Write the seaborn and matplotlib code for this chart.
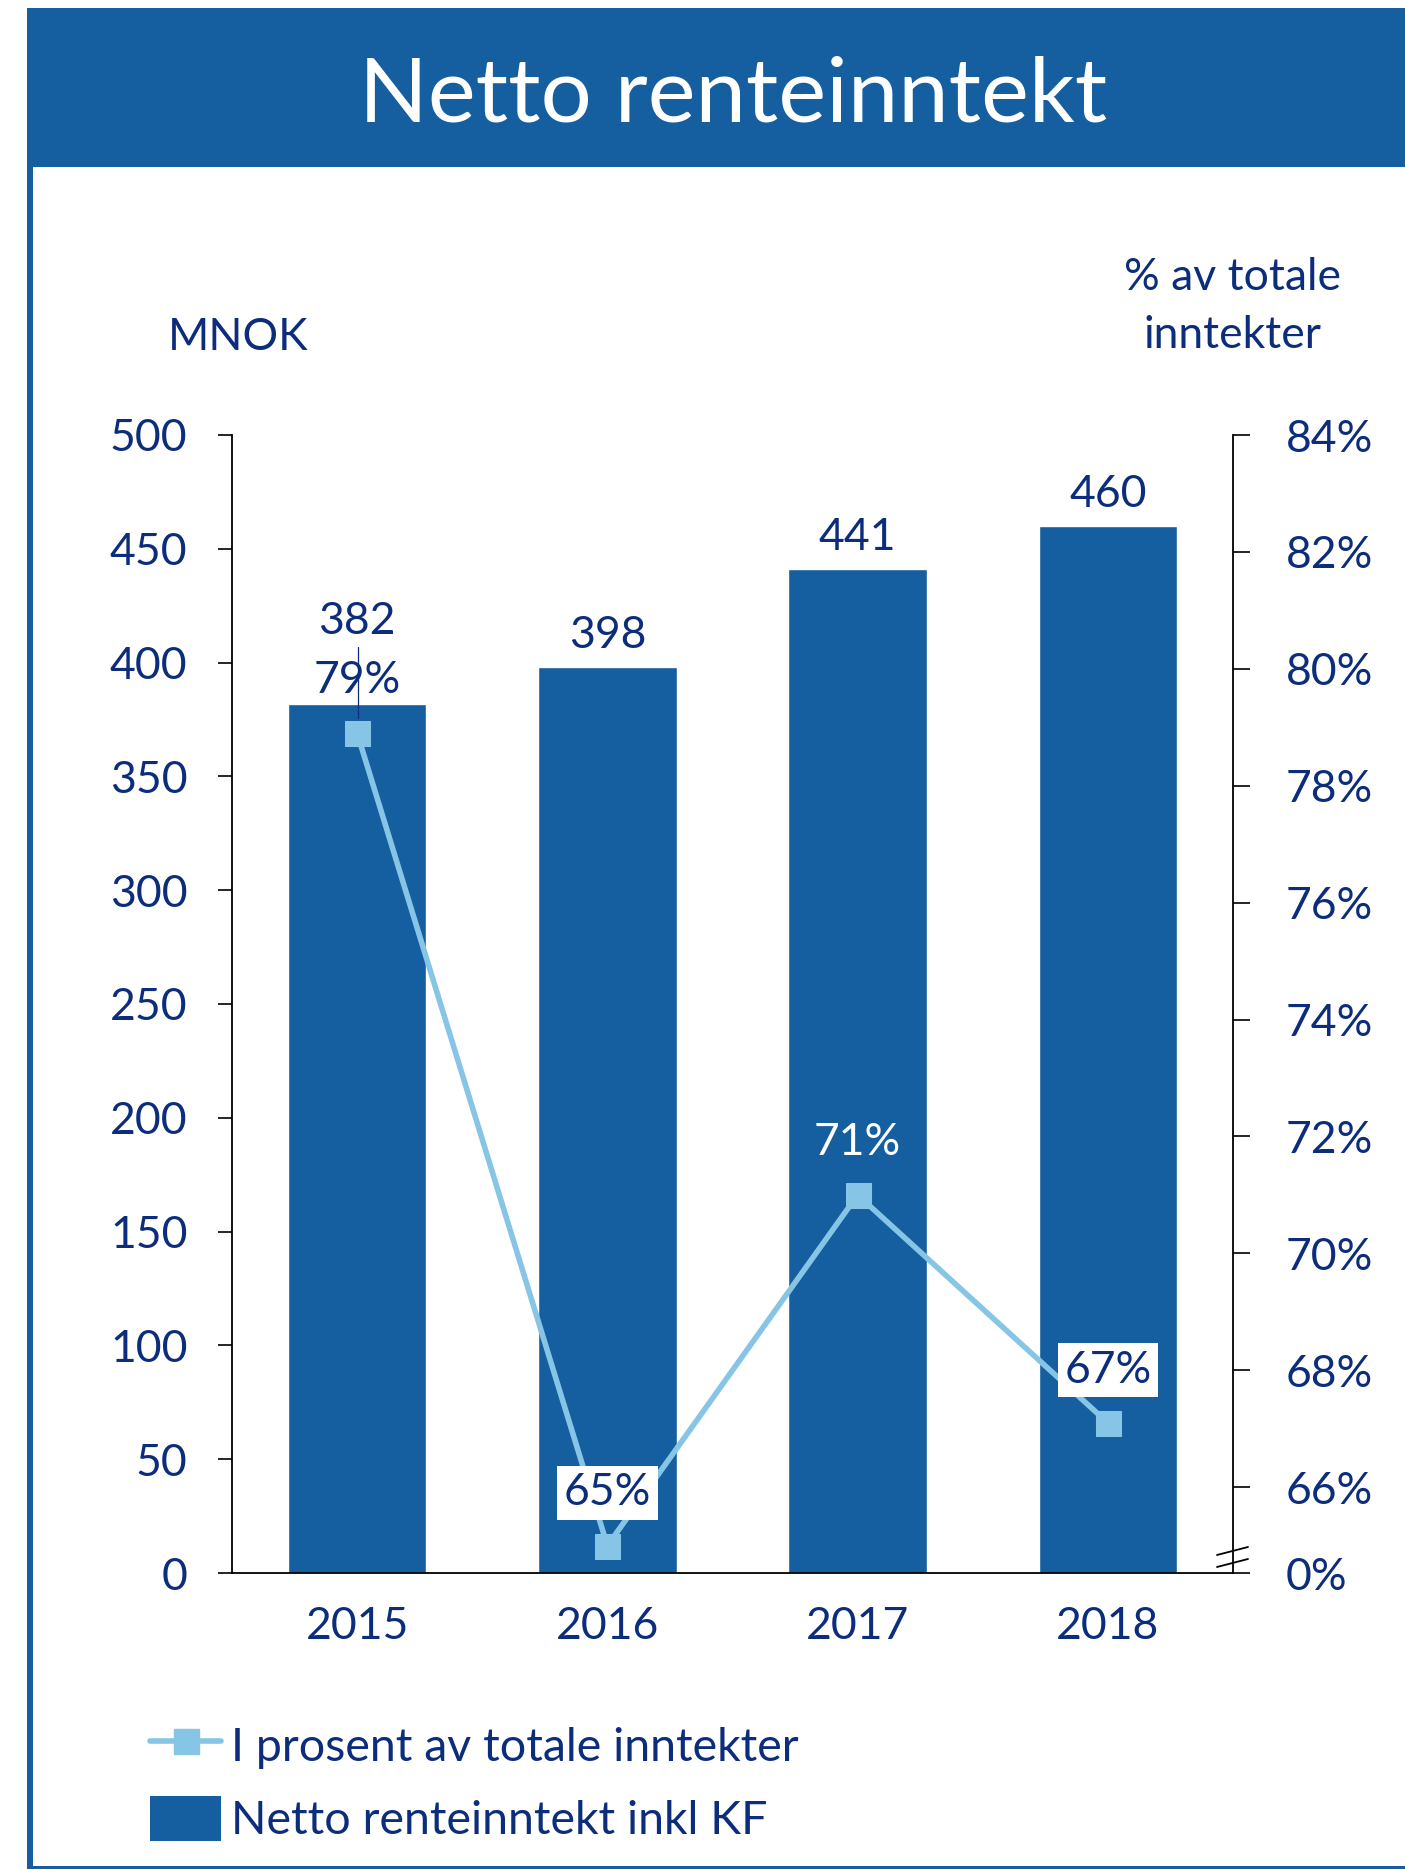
import numpy as np
import pandas as pd
import matplotlib
matplotlib.use("Agg")
import matplotlib.pyplot as plt
from matplotlib.patches import Rectangle, Patch
from matplotlib.lines import Line2D
import seaborn as sns

# ---- data ----
years = ["2015", "2016", "2017", "2018"]
netto = [382, 398, 441, 460]
prosent = [78.9, 65.0, 71.0, 67.1]
prosent_labels = ["79%", "65%", "71%", "67%"]
left_ticks = [0, 50, 100, 150, 200, 250, 300, 350, 400, 450, 500]
right_ticks = [66, 68, 70, 72, 74, 76, 78, 80, 82, 84]

BAR = "#155FA0"
LIGHT = "#86C5E5"
NAVY = "#0C2D7B"

sns.set_theme(style="white")
plt.rcParams["font.family"] = ["Lato", "DejaVu Sans"]

W, H = 1405, 1869
fig = plt.figure(figsize=(W / 100, H / 100), dpi=100)

def fx(px):
    return px / W

def fy(py):
    return 1 - py / H

# frame decorations
fig.patches.append(Rectangle((fx(27), fy(167)), 1, fy(8) - fy(167), transform=fig.transFigure,
                             facecolor=BAR, edgecolor="none", zorder=0))
fig.patches.append(Rectangle((fx(27), 0), fx(6), fy(8), transform=fig.transFigure,
                             facecolor=BAR, edgecolor="none", zorder=0))
fig.patches.append(Rectangle((fx(27), 0), 1, 3 / H, transform=fig.transFigure,
                             facecolor=BAR, edgecolor="none", zorder=0))
fig.text(fx(733), fy(121), "Netto renteinntekt", color="white", fontsize=65,
         ha="center", va="baseline")

ax = fig.add_axes([fx(232), fy(1573), fx(1233) - fx(232), fy(435) - fy(1573)])
df = pd.DataFrame({"year": years, "netto": netto, "prosent": prosent})
sns.barplot(data=df, x="year", y="netto", color=BAR, saturation=1, width=0.553, ax=ax)
ax.set_xlim(-0.5, 3.5)
ax.set_ylim(0, 500)
ax.set_yticks(left_ticks)
ax.set_xlabel("")
ax.set_ylabel("")
for s in ["top", "right"]:
    ax.spines[s].set_visible(False)
for s in ["left", "bottom"]:
    ax.spines[s].set_color("black")
    ax.spines[s].set_linewidth(1.3)
ax.tick_params(axis="y", direction="out", length=10, width=1.2, color="black",
               labelsize=32, labelcolor=NAVY, pad=22, left=True)
ax.tick_params(axis="x", length=0, labelsize=32, labelcolor=NAVY, pad=24)
ax.grid(False)

# bar labels
for i, v in enumerate(netto):
    off = 23 if i != 0 else 59
    ax.annotate(f"{v}", (i, v), xytext=(0, off), textcoords="offset points",
                ha="center", va="center", fontsize=32, color=NAVY)

# twin axis for percentage
ax2 = ax.twinx()
bottom_val = 66 - (1320 - 1248) / (1248 - 365) * 18
ax2.set_ylim(bottom_val, 84)
sns.lineplot(x=np.arange(len(years)), y=prosent, ax=ax2, color=LIGHT, linewidth=4,
             marker="s", markersize=18, markeredgecolor=LIGHT, markerfacecolor=LIGHT, zorder=3)
ax2.set_yticks([bottom_val] + right_ticks)
ax2.set_yticklabels(["0%"] + [f"{t}%" for t in right_ticks])
for s in ["top", "left", "bottom"]:
    ax2.spines[s].set_visible(False)
ax2.spines["right"].set_color("black")
ax2.spines["right"].set_linewidth(1.3)
ax2.tick_params(axis="y", direction="out", length=12, width=1.2, color="black",
                labelsize=32, labelcolor=NAVY, pad=26, right=True)
ax2.grid(False)

# line labels
for i, (v, lab) in enumerate(zip(prosent, prosent_labels)):
    if i in (1, 3):
        kw = dict(bbox=dict(boxstyle="square,pad=0.15", facecolor="white", edgecolor="none"),
                  color=NAVY)
    elif i == 2:
        kw = dict(color="white")
    else:
        kw = dict(color=NAVY)
    ax2.annotate(lab, (i, v), xytext=(0, 38), textcoords="offset points",
                 ha="center", va="center", fontsize=32, zorder=5, **kw)

# leader line from the 2015 bar label down to the marker
fig.add_artist(Line2D([fx(357.5), fx(357.5)], [fy(647), fy(718)], color=NAVY, lw=0.9,
                      transform=fig.transFigure, zorder=10))

# axis break marks on right spine
for dy in (1551, 1563):
    yb = fy(dy)
    fig.add_artist(Line2D([fx(1217), fx(1248)], [yb - 4 / H, yb + 4 / H],
                          color="black", lw=1.3, transform=fig.transFigure))

# axis titles
fig.text(fx(168), fy(350), "MNOK", fontsize=32, color=NAVY, ha="left", va="baseline")
fig.text(fx(1232), fy(290), "% av totale", fontsize=32, color=NAVY, ha="center", va="baseline")
fig.text(fx(1232), fy(348), "inntekter", fontsize=32, color=NAVY, ha="center", va="baseline")

# legend
handles = [Line2D([0], [0], color=LIGHT, lw=4, marker="s", markersize=18,
                  markerfacecolor=LIGHT, markeredgecolor=LIGHT),
           Patch(facecolor=BAR, edgecolor="none")]
labels = ["I prosent av totale inntekter", "Netto renteinntekt inkl KF"]
leg = fig.legend(handles, labels, loc="upper left", bbox_to_anchor=(fx(127), fy(1699)),
                 frameon=False, fontsize=33.5, handlelength=1.53, handleheight=1.12,
                 handletextpad=0.2, labelspacing=0.58, labelcolor=NAVY, borderpad=0)

fig.savefig("out.png", dpi=100, facecolor="white")
